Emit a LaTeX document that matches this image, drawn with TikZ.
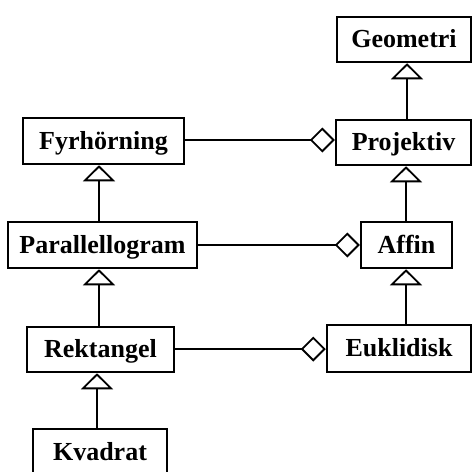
\documentclass[tikz,border=0pt]{standalone}
\usepackage{fontspec}
\setmainfont{Liberation Serif}
\usetikzlibrary{arrows.meta}
\begin{document}
\begin{tikzpicture}[x=1pt,y=-1pt,
  cls/.style={draw, line width=2.5pt, fill=white, inner sep=0pt,
    font=\fontsize{26}{28}\selectfont\bfseries,
    text height=19.5pt, text depth=3pt},
  inh/.style={line width=2pt, -{Triangle[open, length=16pt, width=32pt, line width=1.8pt]}},
  agg/.style={line width=2pt, -{Diamond[open, length=25pt, width=25pt, line width=1.8pt]}}]
\useasboundingbox (0,0) rectangle (476,471);
\clip (0,0) rectangle (476,471);
% class boxes
\node[cls, minimum width=134pt, minimum height=45pt] (geo) at (404,39.5) {Geometri};
\node[cls, minimum width=135pt, minimum height=45pt] (proj) at (403.5,142.5) {Projektiv};
\node[cls, minimum width=161pt, minimum height=46pt] (fyr) at (103.5,141) {Fyrhörning};
\node[cls, minimum width=189pt, minimum height=46pt] (par) at (102.5,245) {Parallellogram};
\node[cls, minimum width=91pt, minimum height=46pt] (aff) at (406.5,245) {Affin};
\node[cls, minimum width=147pt, minimum height=45pt] (rek) at (100.5,349.5) {Rektangel};
\node[cls, minimum width=144pt, minimum height=47pt] (euk) at (399,348.5) {Euklidisk};
\node[cls, minimum width=134pt, minimum height=46pt] (kva) at (100,452) {Kvadrat};
% inheritance
\draw[inh] ([xshift=3.5pt]proj.north) -- ([xshift=3.5pt]proj.north |- geo.south);
\draw[inh] ([xshift=-0.5pt]aff.north) -- ([xshift=-0.5pt]aff.north |- proj.south);
\draw[inh] ([xshift=-0.5pt]aff.south |- euk.north) -- ([xshift=-0.5pt]aff.south);
\draw[inh] ([xshift=-4.5pt]fyr.south |- par.north) -- ([xshift=-4.5pt]fyr.south);
\draw[inh] ([xshift=-1.5pt]rek.north) -- ([xshift=-1.5pt]rek.north |- par.south);
\draw[inh] ([xshift=-3.5pt]rek.south |- kva.north) -- ([xshift=-3.5pt]rek.south);
% aggregation
\draw[agg] ([yshift=1pt]fyr.east) -- ([yshift=1pt]fyr.east -| proj.west);
\draw[agg] (par.east) -- (par.east -| aff.west);
\draw[agg] ([yshift=0.5pt]rek.east) -- ([yshift=0.5pt]rek.east -| euk.west);
\end{tikzpicture}
\end{document}
